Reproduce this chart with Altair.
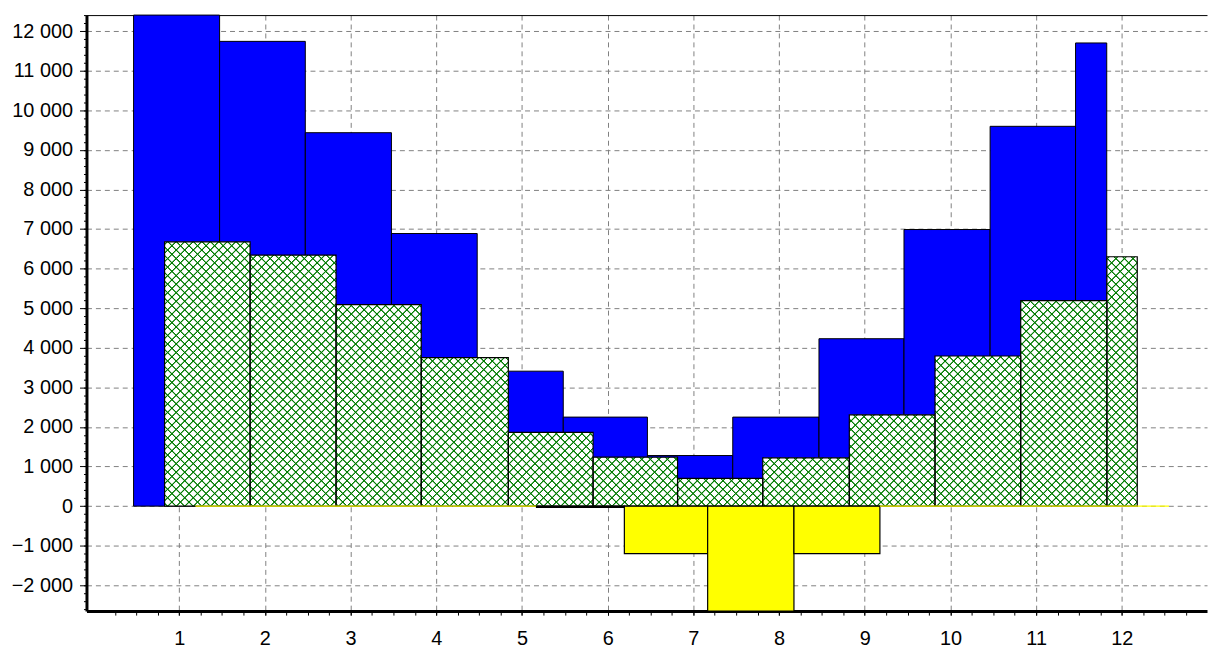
import altair as alt
import pandas as pd

# ---------------- data ----------------
x_ticks = list(range(1, 13))
y_ticks = list(range(-2000, 12001, 1000))
x_minor = [k / 4 for k in range(1, 52)]
y_minor = list(range(-2600, 12401, 200))

# blue series (bar left / right edges and values)
blue_x0 = [0.468, 1.472, 2.472, 3.477, 4.478, 5.482, 6.464, 7.46, 8.466, 9.458, 10.463, 11.46]
blue_x1 = [1.472, 2.472, 3.477, 4.478, 5.482, 6.464, 7.46, 8.466, 9.458, 10.463, 11.46, 11.824]
blue_val = [12404, 11740, 9433, 6886, 3409, 2249, 1278, 2249, 4229, 6987, 9594, 11700]

# green (hatched) series
green_x0 = [0.83, 1.828, 2.831, 3.825, 4.841, 5.830, 6.816, 7.810, 8.820, 9.820, 10.820, 11.826]
green_x1 = [1.828, 2.831, 3.825, 4.841, 5.830, 6.816, 7.810, 8.820, 9.820, 10.820, 11.826, 12.18]
green_val = [6676, 6342, 5089, 3753, 1863, 1236, 702, 1221, 2306, 3793, 5189, 6300]

# yellow series
yellow_x0 = [1.19, 2.19, 3.19, 4.19, 5.17, 6.195, 7.167, 8.174, 9.177, 10.18, 11.18, 12.18]
yellow_x1 = [2.19, 3.19, 4.19, 5.17, 6.195, 7.167, 8.174, 9.177, 10.18, 11.18, 12.18, 12.55]
yellow_val = [0, 0, 0, 0, -30, -1200, -2652, -1200, 0, 0, 0, 0]

X_DOMAIN = [-0.0815, 12.994]
Y_DOMAIN = [-2652, 12404]
W, H = 1128, 600

FONT = "Liberation Sans"


def frame(x0, x1, v):
    return pd.DataFrame({"x0": x0, "x1": x1, "v": v, "base": [0] * len(v)})


blue_df = frame(blue_x0, blue_x1, blue_val)
green_df = frame(green_x0, green_x1, green_val)
yellow_df = frame(yellow_x0, yellow_x1, yellow_val)

xs = alt.Scale(domain=X_DOMAIN, nice=False, zero=False)
ys = alt.Scale(domain=Y_DOMAIN, nice=False, zero=False)

GRID = dict(grid=True, gridColor="#808080", gridDash=[5, 4], gridWidth=1)

main_x_axis = alt.Axis(values=x_ticks, title=None, format="d", tickSize=4,
                       tickColor="#000000", domainColor="#000000", domainWidth=3,
                       labelPadding=14, labelFontSize=20, labelFont=FONT,
                       labelColor="#000000", **GRID)
main_y_axis = alt.Axis(values=y_ticks, title=None, tickSize=7, tickColor="#000000",
                       domainColor="#000000", domainWidth=3, labelPadding=7,
                       labelFontSize=20, labelFont=FONT, labelColor="#000000",
                       labelExpr="datum.value == 0 ? '0' : format(datum.value / 1000, 'd') + ' 000'",
                       **GRID)
minor_x_axis = alt.Axis(values=x_minor, orient="bottom", title=None, labels=False,
                        grid=False, domain=False, tickSize=4, tickColor="#000000")
minor_y_axis = alt.Axis(values=y_minor, orient="left", title=None, labels=False,
                        grid=False, domain=False, tickSize=3, tickColor="#000000")
top_axis = alt.Axis(orient="top", title=None, labels=False, ticks=False, grid=False,
                    domain=True, domainColor="#000000", domainWidth=1)


def enc(chart, xaxis=None, yaxis=None):
    return chart.encode(
        x=alt.X("x0:Q", scale=xs, axis=xaxis),
        x2="x1:Q",
        y=alt.Y("v:Q", scale=ys, axis=yaxis),
        y2="base:Q",
    )


# ---- hatch fill for the green bars (two families of 45 degree lines) ----
kx = W / (X_DOMAIN[1] - X_DOMAIN[0])
ky = H / (Y_DOMAIN[1] - Y_DOMAIN[0])
PERIOD = 8.6
CORE = 0.35    # half width of the solid core of a hatch line
EDGE = 1.25    # half width of the soft edge
LINE = "#007a00"


def hatch(x0, x1, v, family, base):
    X0 = (x0 - X_DOMAIN[0]) * kx
    w = (x1 - x0) * kx
    top = (Y_DOMAIN[1] - max(v, 0)) * ky
    h = abs(v) * ky
    tot = w + h
    d = w * w + h * h
    if family == 1:
        shift = X0 + top
        g = {"x1": 0, "y1": 0, "x2": w * tot / d, "y2": h * tot / d}
    else:
        shift = X0 - top - h
        g = {"x1": 0, "y1": 1, "x2": w * tot / d, "y2": 1 - h * tot / d}
    pts = []
    c = ((-shift) % PERIOD) - PERIOD
    while c < tot + PERIOD:
        pts += [(c - EDGE, base), (c - CORE, LINE), (c + CORE, LINE), (c + EDGE, base)]
        c += PERIOD
    stops = []
    for off, col in pts:
        if 0 <= off <= tot:
            stops.append({"offset": round(off / tot, 5), "color": col})
    if not stops:
        stops = [{"offset": 0, "color": base}, {"offset": 1, "color": base}]
    g["gradient"] = "linear"
    g["stops"] = stops
    return g


layers = []

blue = enc(alt.Chart(blue_df).mark_rect(fill="#0000ff", stroke="#000000", strokeWidth=1),
           main_x_axis, main_y_axis)
layers.append(blue)

for i in range(len(green_val)):
    sub = green_df.iloc[[i]]
    fill = hatch(green_x0[i], green_x1[i], green_val[i], 1, "#ffffff")
    lay = alt.Chart(sub).mark_rect(fill=fill, strokeWidth=0)
    layers.append(enc(lay, top_axis if i == 0 else None, None))

for i in range(len(green_val)):
    sub = green_df.iloc[[i]]
    fill = hatch(green_x0[i], green_x1[i], green_val[i], 2, "rgba(0,122,0,0)")
    lay = alt.Chart(sub).mark_rect(fill=fill, stroke="#000000", strokeWidth=1.2)
    layers.append(enc(lay))

yellow = enc(
    alt.Chart(yellow_df).mark_rect(fill="#ffff00", strokeWidth=1.2),
    minor_x_axis, minor_y_axis,
).encode(stroke=alt.condition(alt.datum.v == 0, alt.value("#ffff00"), alt.value("#000000")))
layers.append(yellow)

chart = (
    alt.layer(*layers)
    .resolve_axis(x="independent", y="independent")
    .properties(
        width=W,
        height=H,
        autosize=alt.AutoSizeParams(type="none"),
        padding={"left": 79, "top": 5, "right": 2, "bottom": 35},
        background="#ffffff",
    )
    .configure_view(stroke=None)
)

chart.save("out.html", embed_options={"renderer": "svg", "actions": False})
